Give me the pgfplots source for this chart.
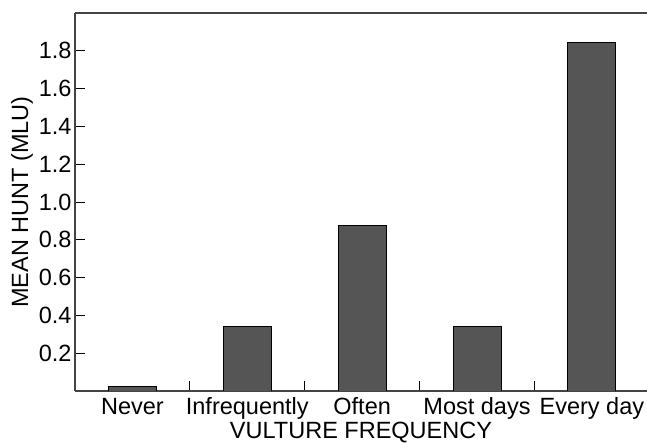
\documentclass[border=0pt]{standalone}
\usepackage{pgfplots}
\pgfplotsset{compat=1.18}
\usepackage{fontspec}
\setmainfont{Liberation Sans}
\definecolor{barfill}{HTML}{555555}
\definecolor{spine}{HTML}{444444}
\begin{document}
\begin{tikzpicture}
\begin{axis}[
  scale only axis, width=572pt, height=378pt,
  xmin=-0.5, xmax=4.48, ymin=0, ymax=2,
  axis x line*=box, axis y line*=left,
  axis line style={spine, line width=1.3pt},
  every tick/.style={black, line width=0.9pt},
  tick align=inside, major tick length=10pt,
  xtick pos=bottom, ytick pos=left,
  xtick={0.5,1.5,2.5,3.5}, xticklabels={},
  extra x ticks={0,1,2,3,4},
  extra x tick labels={Never,Infrequently,Often,Most days,Every day},
  extra x tick style={major tick length=0pt, xticklabel style={anchor=base, yshift=-24pt}},
  ytick={0.2,0.4,0.6,0.8,1.0,1.2,1.4,1.6,1.8},
  yticklabel style={/pgf/number format/.cd, fixed, fixed zerofill, precision=1, assume math mode=true},
  font=\fontsize{23.5}{28}\selectfont,
  tick label style={font=\fontsize{23.5}{28}\selectfont},
  label style={font=\fontsize{23.5}{28}\selectfont},
  xlabel={VULTURE FREQUENCY},
  ylabel={MEAN HUNT (MLU)},
  every axis x label/.style={at={(axis description cs:0.5,0)}, anchor=base, inner sep=0pt, yshift=-48pt},
  every axis y label/.style={at={(axis description cs:0,0.5)}, anchor=center, xshift=-53pt, rotate=90},
]
\addplot[ybar, bar width=0.417, fill=barfill, draw=black, line width=0.9pt] coordinates {
  (0,0.026) (1,0.343) (2,0.878) (3,0.341) (4,1.844)
};
\end{axis}
\pgfresetboundingbox
\path ([xshift=-75pt,yshift=-52pt]current axis.south west) rectangle ++(647pt,443pt);
\end{tikzpicture}
\end{document}
